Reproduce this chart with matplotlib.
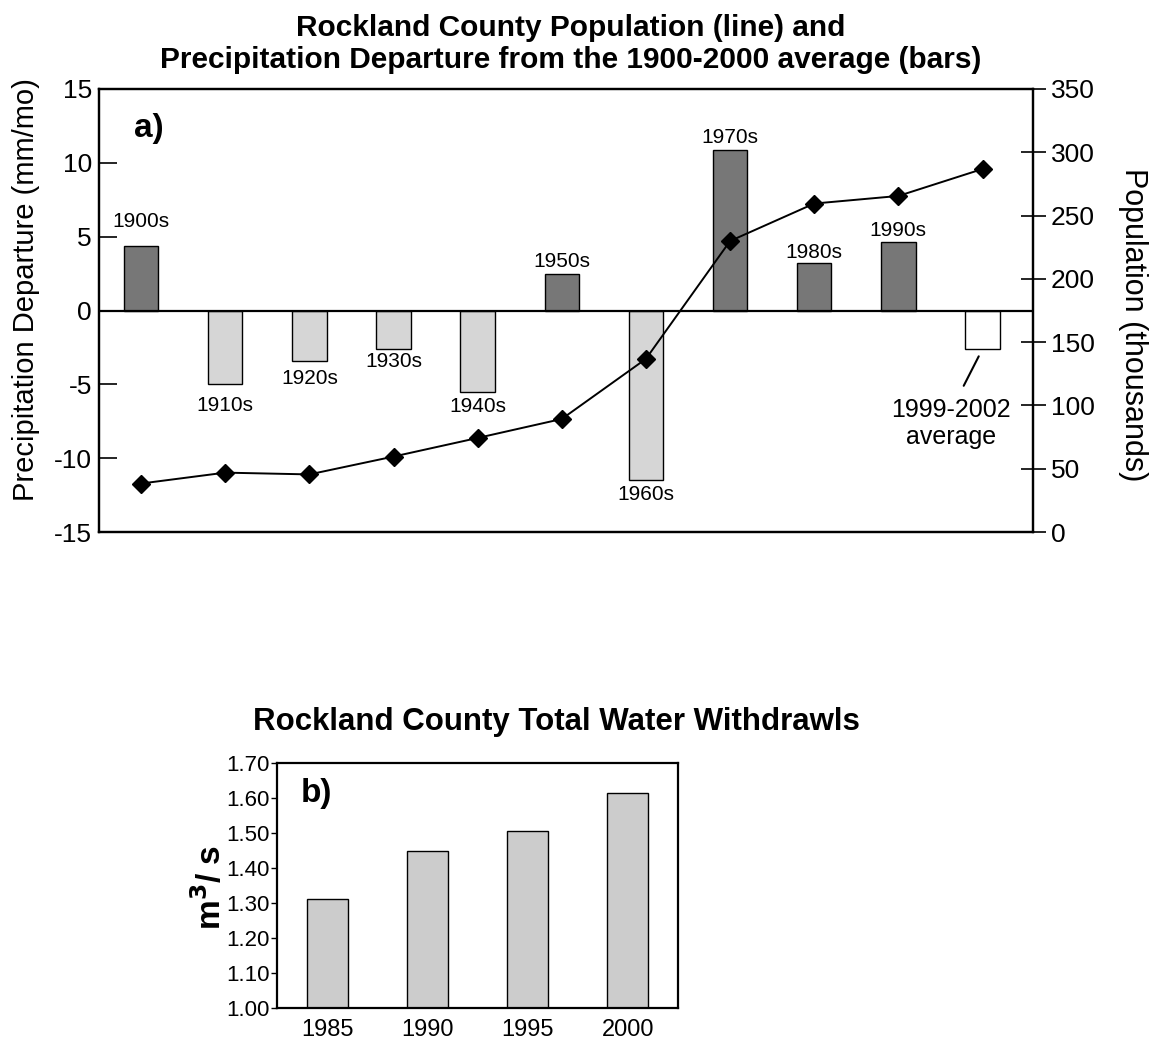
import matplotlib
matplotlib.use("Agg")
import matplotlib.pyplot as plt
import numpy as np

plt.rcParams['font.family'] = ['Liberation Sans', 'DejaVu Sans']

# ---------------- data ----------------
decades = ["1900s", "1910s", "1920s", "1930s", "1940s", "1950s",
           "1960s", "1970s", "1980s", "1990s", "1999-2002\naverage"]
precip_departure = [4.4, -5.0, -3.4, -2.6, -5.55, 2.45, -11.45, 10.85, 3.2, 4.65, -2.6]
population_k = [38.3, 46.9, 45.5, 59.6, 74.3, 89.3, 136.8, 229.9, 259.5, 265.5, 286.8]

withdraw_years = ["1985", "1990", "1995", "2000"]
withdrawals = [1.31, 1.45, 1.505, 1.615]

left_ticks = [-15, -10, -5, 0, 5, 10, 15]
right_ticks = [0, 50, 100, 150, 200, 250, 300, 350]
b_ticks = [1.00, 1.10, 1.20, 1.30, 1.40, 1.50, 1.60, 1.70]

# ---------------- figure ----------------
W, H = 1152, 1045
fig = plt.figure(figsize=(W / 100, H / 100), dpi=100)

def frac(x0, y0, x1, y1):
    return [x0 / W, 1 - y1 / H, (x1 - x0) / W, (y1 - y0) / H]

# ---- panel a ----
ax = fig.add_axes(frac(99, 89, 1033, 532))
x = np.arange(len(decades))
colors = []
for i, v in enumerate(precip_departure):
    if i == len(decades) - 1:
        colors.append('white')
    elif v >= 0:
        colors.append('#777777')
    else:
        colors.append('#d6d6d6')
ax.bar(x, precip_departure, width=0.41, color=colors, edgecolor='black',
       linewidth=1.0, zorder=2)
ax.axhline(0, color='black', linewidth=1.6, zorder=3)
ax.set_xlim(-0.5, 10.6)
ax.set_ylim(-15, 15)
ax.set_yticks(left_ticks)
ax.set_yticklabels([str(t) for t in left_ticks])
ax.set_xticks([])
ax.tick_params(axis='y', direction='in', length=13, width=1.2, labelsize=19, pad=5)
for s in ax.spines.values():
    s.set_linewidth(1.6)
ax.set_ylabel("Precipitation Departure (mm/mo)", fontsize=21, va='center', ha='center')
ax.yaxis.set_label_coords((26 - 99) / 934, (532 - 290) / 443)

# bar labels (label-centre distance from bar end, points)
label_offsets = [17, 15, 13, 9, 10, 9.5, 11, 9.5, 8, 8]
for i, (lab, v) in enumerate(zip(decades[:-1], precip_departure[:-1])):
    off = label_offsets[i] if v >= 0 else -label_offsets[i]
    ax.annotate(lab, (x[i], v), xytext=(0, off), textcoords='offset points',
                ha='center', va='center', fontsize=15)
ax.annotate(decades[-1], (x[-1], precip_departure[-1]), xytext=(-22.5, -54),
            textcoords='offset points', ha='center', va='center', fontsize=18,
            linespacing=1.15,
            arrowprops=dict(arrowstyle='-', color='black', lw=1.5,
                            relpos=(0.55, 1.0), shrinkA=8, shrinkB=6))

ax.text(0.037, 0.945, "a)", transform=ax.transAxes, fontsize=24,
        fontweight='bold', ha='left', va='top')

# population line
ax2 = ax.twinx()
ax2.plot(x, population_k, color='black', linewidth=1.4, marker='D',
         markersize=9, zorder=5)
ax2.set_ylim(0, 350)
ax2.set_yticks(right_ticks)
ax2.tick_params(axis='y', direction='inout', length=18, width=1.2, labelsize=19, pad=4)
for s in ax2.spines.values():
    s.set_linewidth(1.6)
ax2.set_ylabel("Population (thousands)", fontsize=22, rotation=-90,
               va='center', ha='center')
ax2.yaxis.set_label_coords((1133 - 99) / 934, (532 - 325) / 443)

fig.text(0.495, 0.987, "Rockland County Population (line) and\n"
         "Precipitation Departure from the 1900-2000 average (bars)",
         ha='center', va='top', fontsize=21.5, fontweight='bold', linespacing=1.2)

# ---- panel b ----
bx = fig.add_axes(frac(277, 763, 678, 1008))
xb = np.arange(len(withdraw_years))
bx.bar(xb, withdrawals, width=0.41, color='#cccccc', edgecolor='black',
       linewidth=1.0, zorder=2)
bx.set_xlim(-0.5, 3.5)
bx.set_ylim(1.0, 1.7)
bx.set_yticks(b_ticks)
bx.set_yticklabels([f"{t:.2f}" for t in b_ticks])
bx.set_xticks(xb)
bx.set_xticklabels(withdraw_years)
bx.tick_params(axis='y', direction='out', length=4, width=1.0, labelsize=16, pad=1)
bx.tick_params(axis='x', length=0, labelsize=17, pad=8)
for s in bx.spines.values():
    s.set_linewidth(1.6)
bx.set_ylabel(r"m$^\mathbf{3}$/ s", fontsize=24, fontweight='bold',
              va='center', ha='center')
bx.yaxis.set_label_coords((210 - 277) / 401, (1008 - 887) / 245)
bx.text(0.06, 0.94, "b)", transform=bx.transAxes, fontsize=24,
        fontweight='bold', ha='left', va='top')
fig.text(556 / W, 1 - 722 / H, "Rockland County Total Water Withdrawls",
         fontsize=22.5, fontweight='bold', ha='center', va='center')

fig.savefig("out.png", dpi=100)
